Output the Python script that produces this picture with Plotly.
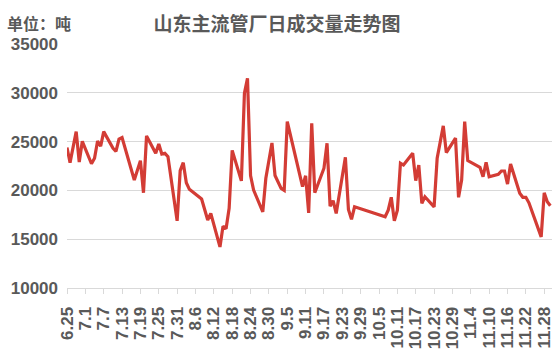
import plotly.graph_objects as go

# 日期（月.日）与成交量（吨）
dates = ["6.25", "6.26", "6.28", "6.29", "6.30", "7.3", "7.4", "7.5", "7.6", "7.7",
         "7.10", "7.11", "7.12", "7.13", "7.17", "7.19", "7.20", "7.21", "7.24", "7.25",
         "7.26", "7.27", "7.28", "7.31", "8.1", "8.2", "8.3", "8.4", "8.8", "8.10",
         "8.11", "8.14", "8.15", "8.16", "8.17", "8.18", "8.21", "8.22", "8.23", "8.24",
         "8.25", "8.28", "8.29", "8.31", "9.1", "9.3", "9.4", "9.5", "9.10", "9.11",
         "9.12", "9.13", "9.14", "9.17", "9.18", "9.19", "9.20", "9.21", "9.24", "9.25",
         "9.26", "9.27", "10.7", "10.8", "10.9", "10.10", "10.11", "10.12", "10.13", "10.16",
         "10.17", "10.18", "10.19", "10.20", "10.23", "10.24", "10.26", "10.27", "10.30", "10.31",
         "11.1", "11.2", "11.3", "11.7", "11.8", "11.9", "11.10", "11.13", "11.14", "11.15",
         "11.16", "11.17", "11.20", "11.21", "11.22", "11.23", "11.27", "11.28", "11.29", "11.30"]
volumes = [24400, 22850, 26030, 22900, 25030, 22730, 23290, 25070, 24520, 26020,
           24330, 24000, 25250, 25420, 21060, 23050, 19760, 25580, 23810, 24760,
           23730, 23810, 23460, 16880, 22020, 22840, 20790, 20110, 19120, 16960,
           17640, 14210, 16340, 16060, 18160, 24100, 20980, 29970, 31480, 21520,
           20040, 17800, 21240, 24860, 21530, 20200, 20000, 27050, 20380, 21500,
           17700, 26880, 19760, 22270, 24830, 18390, 18940, 17640, 23390, 18050,
           17030, 18320, 17300, 17980, 19290, 16880, 17980, 22780, 22600, 23810,
           21000, 22600, 18670, 19350, 18320, 23290, 26610, 23870, 25350, 19290,
           21060, 27050, 23050, 22370, 21400, 22880, 21400, 21650, 21990, 21990,
           20650, 22710, 19700, 19290, 19290, 18730, 15240, 19760, 18830, 18420]

tick_labels = ["6.25", "7.1", "7.7", "7.13", "7.19", "7.25", "7.31", "8.6", "8.12",
               "8.18", "8.24", "8.30", "9.5", "9.11", "9.17", "9.23", "9.29", "10.5",
               "10.11", "10.17", "10.23", "10.29", "11.4", "11.10", "11.16", "11.22", "11.28"]
y_ticks = [10000, 15000, 20000, 25000, 30000, 35000]

YEAR = 2020


def to_iso(md):
    m, d = md.split(".")
    return f"{YEAR}-{int(m):02d}-{int(d):02d}"


x_vals = [to_iso(s) for s in dates]
tick_vals = [to_iso(s) for s in tick_labels]

TXT = "#595959"
GRID = "#D9D9D9"
FONT = "Liberation Sans, Noto Sans CJK SC, sans-serif"

fig = go.Figure()
fig.add_trace(go.Scatter(
    x=x_vals, y=volumes, mode="lines",
    line=dict(color="#D33C35", width=3.2),
    hoverinfo="x+y",
))

fig.update_layout(
    width=554, height=358,
    margin=dict(l=67, r=2, t=44, b=70),
    paper_bgcolor="white", plot_bgcolor="white",
    showlegend=False,
    title=dict(
        text="山东主流管厂日成交量走势图",
        xref="container", x=277 / 554, xanchor="center",
        yref="container", y=1 - 24 / 358, yanchor="middle",
        font=dict(family="Noto Sans CJK SC, sans-serif", size=19, color=TXT, weight="bold"),
    ),
    annotations=[dict(
        text="单位：吨", xref="paper", yref="paper",
        x=(5 - 67) / 485, y=(288 - 23) / 244,
        xanchor="left", yanchor="middle", showarrow=False,
        font=dict(family="Noto Sans CJK SC, sans-serif", size=16, color=TXT, weight="bold"),
    )],
    font=dict(family=FONT, color=TXT),
)

fig.update_xaxes(
    type="date",
    range=[f"{YEAR}-06-25", f"{YEAR}-11-30 13:00"],
    tickmode="array", tickvals=tick_vals, ticktext=tick_labels,
    tickangle=-90,
    tickfont=dict(family=FONT, size=17, color=TXT, weight="bold"),
    showgrid=False, zeroline=False,
    showline=True, linecolor=GRID, linewidth=1,
    ticks="outside", ticklen=5, tickcolor=GRID, tickwidth=1,
    ticklabelstandoff=6,
    automargin=False,
)

fig.update_yaxes(
    range=[10000, 35000],
    tickmode="array", tickvals=y_ticks, tickformat="d",
    tickfont=dict(family=FONT, size=17, color=TXT, weight="bold"),
    showgrid=True, gridcolor=GRID, gridwidth=1,
    zeroline=False, showline=False, ticks="",
    ticklabelstandoff=8,
    automargin=False,
)

fig.write_html("out.html", config={"displayModeBar": False},
               post_script="document.body.style.margin='0';")
